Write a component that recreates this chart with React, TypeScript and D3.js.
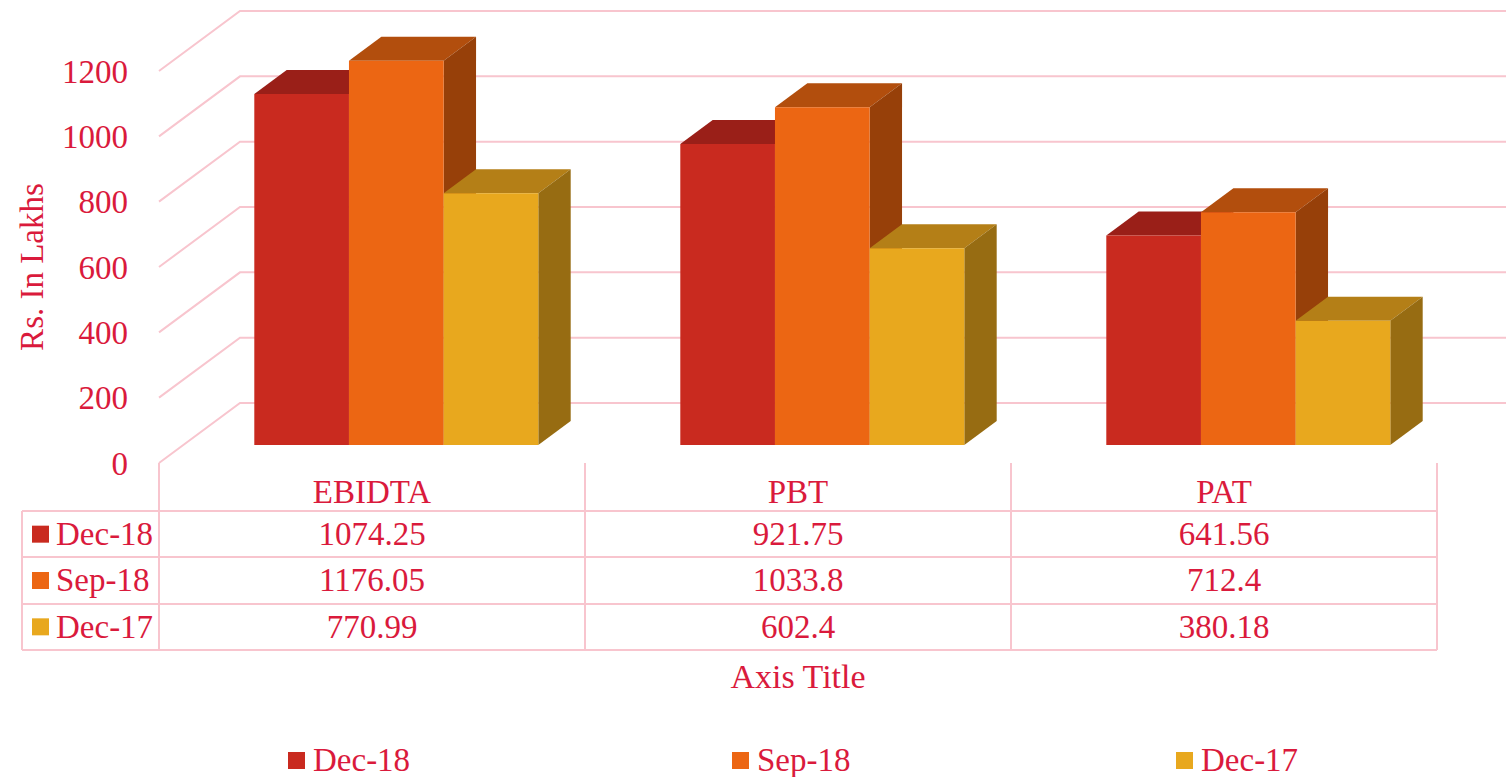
import React from "react";
import { scaleBand, scaleLinear } from "d3";

const categories = ["EBIDTA", "PBT", "PAT"];
const seriesNames = ["Dec-18", "Sep-18", "Dec-17"];
const dec18 = [1074.25, 921.75, 641.56];
const sep18 = [1176.05, 1033.8, 712.4];
const dec17 = [770.99, 602.4, 380.18];
const yTicks = [0, 200, 400, 600, 800, 1000, 1200];

const seriesValues = [dec18, sep18, dec17];
const tableLabels = [
  ["1074.25", "921.75", "641.56"],
  ["1176.05", "1033.8", "712.4"],
  ["770.99", "602.4", "380.18"],
];

const W = 1506;
const H = 777;
const TEXT = "#DA1A3C";
const GRID = "#F8C5CE";
const FONT = "'Liberation Serif', serif";
const FS = 33;

// front face, top, side
const colors = [
  { front: "#C92A1F", top: "#9A1F18", side: "#7E1912" },
  { front: "#EC6613", top: "#B24E0D", side: "#974009" },
  { front: "#E8A81E", top: "#B47F17", side: "#976C12" },
];

// oblique depth vector for the full floor depth
const DX = 81;
const DY = -60;
const Z0 = 0.3;
const Z1 = 0.7;

const App = () => {
  const x = scaleBand().domain(categories).range([159, 1437]);
  const y = scaleLinear().domain([0, 1200]).range([463, 71]);
  const groupW = (x.bandwidth() * 2) / 3;
  const inner = scaleBand().domain(seriesNames).range([0, groupW]);
  const rows = scaleBand().domain(seriesNames).range([511, 650]);

  const pt = (px: number, v: number, z: number) =>
    `${px + z * DX},${y(v) + z * DY}`;

  const bars: JSX.Element[] = [];
  categories.forEach((c, ci) => {
    const gx = (x(c) as number) + (x.bandwidth() - groupW) / 2;
    seriesNames.forEach((s, si) => {
      const v = seriesValues[si][ci];
      const x0 = gx + (inner(s) as number);
      const x1 = x0 + inner.bandwidth();
      const col = colors[si];
      bars.push(
        <g key={`${c}-${s}`}>
          <polygon
            points={[pt(x0, v, Z0), pt(x0, v, Z1), pt(x1, v, Z1), pt(x1, v, Z0)].join(" ")}
            fill={col.top}
          />
          <polygon
            points={[pt(x1, 0, Z0), pt(x1, 0, Z1), pt(x1, v, Z1), pt(x1, v, Z0)].join(" ")}
            fill={col.side}
          />
          <polygon
            points={[pt(x0, 0, Z0), pt(x1, 0, Z0), pt(x1, v, Z0), pt(x0, v, Z0)].join(" ")}
            fill={col.front}
          />
        </g>
      );
    });
  });

  const tableTop = 463;
  const tableLeft = 22;
  const right = x.range()[1];

  return (
    <svg
      width={W}
      height={H}
      style={{ position: "absolute", left: 0, top: 0, background: "#fff" }}
      fontFamily={FONT}
    >
      {/* walls */}
      {yTicks.map((t) => (
        <polyline
          key={t}
          points={`${x.range()[0]},${y(t)} ${x.range()[0] + DX},${y(t) + DY} ${W},${y(t) + DY}`}
          fill="none"
          stroke={GRID}
          strokeWidth={2}
        />
      ))}

      {bars}

      {/* y axis labels */}
      {yTicks.map((t) => (
        <text
          key={t}
          x={128}
          y={y(t)}
          dy="0.35em"
          textAnchor="end"
          fontSize={FS}
          fill={TEXT}
        >
          {t}
        </text>
      ))}
      <text
        transform={`translate(43,${(y(0) + y(1200)) / 2}) rotate(-90)`}
        textAnchor="middle"
        fontSize={FS}
        fill={TEXT}
      >
        Rs. In Lakhs
      </text>

      {/* data table */}
      {[511, 557, 604, 650].map((ly) => (
        <line key={ly} x1={tableLeft} x2={right} y1={ly} y2={ly} stroke={GRID} strokeWidth={2} />
      ))}
      <line x1={tableLeft} x2={tableLeft} y1={511} y2={650} stroke={GRID} strokeWidth={2} />
      {[...categories.map((c) => x(c) as number), right].map((lx) => (
        <line key={lx} x1={lx} x2={lx} y1={tableTop} y2={650} stroke={GRID} strokeWidth={2} />
      ))}
      {categories.map((c) => (
        <text
          key={c}
          x={(x(c) as number) + x.bandwidth() / 2}
          y={503}
          textAnchor="middle"
          fontSize={FS}
          fill={TEXT}
        >
          {c}
        </text>
      ))}
      {seriesNames.map((s, si) => {
        const ry = (rows(s) as number) + rows.bandwidth() / 2;
        return (
          <g key={s}>
            <rect x={32} y={ry - 8.5} width={17} height={17} fill={colors[si].front} />
            <text x={56} y={ry} dy="0.33em" fontSize={FS} fill={TEXT}>
              {s}
            </text>
            {categories.map((c, ci) => (
              <text
                key={c}
                x={(x(c) as number) + x.bandwidth() / 2}
                y={ry}
                dy="0.33em"
                textAnchor="middle"
                fontSize={FS}
                fill={TEXT}
              >
                {tableLabels[si][ci]}
              </text>
            ))}
          </g>
        );
      })}

      <text
        x={(x.range()[0] + right) / 2}
        y={688}
        textAnchor="middle"
        fontSize={FS + 1}
        fill={TEXT}
      >
        Axis Title
      </text>

      {/* legend */}
      {seriesNames.map((s, si) => {
        const lx = [288, 732, 1176][si];
        return (
          <g key={s}>
            <rect x={lx} y={752} width={17} height={17} fill={colors[si].front} />
            <text x={lx + 25} y={771} fontSize={FS} fill={TEXT}>
              {s}
            </text>
          </g>
        );
      })}
    </svg>
  );
};

export default App;
